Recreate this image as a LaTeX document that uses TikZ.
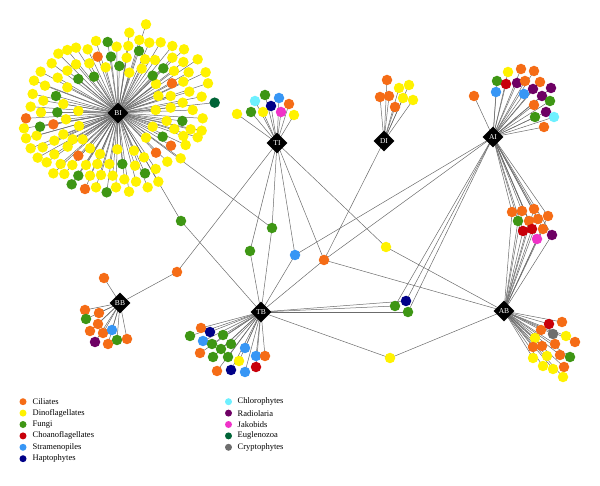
\documentclass[tikz,border=0pt]{standalone}
\usepackage{fontspec}
\setmainfont{Liberation Serif}
\usetikzlibrary{shapes.geometric}
\definecolor{cil}{RGB}{245,108,22}
\definecolor{dino}{RGB}{255,242,0}
\definecolor{fun}{RGB}{62,150,20}
\definecolor{cho}{RGB}{200,0,10}
\definecolor{str}{RGB}{55,150,245}
\definecolor{hap}{RGB}{0,0,135}
\definecolor{chl}{RGB}{110,240,255}
\definecolor{rad}{RGB}{110,0,100}
\definecolor{jak}{RGB}{240,50,200}
\definecolor{eug}{RGB}{0,100,55}
\definecolor{cry}{RGB}{110,110,110}
\pgfdeclarelayer{bg}
\pgfsetlayers{bg,main}
\begin{document}
\begin{tikzpicture}[x=1pt,y=-1pt,
  dot/.style={circle,fill=#1,draw=none,minimum size=10.5pt,inner sep=0pt},
  ldot/.style={circle,fill=#1,draw=none,minimum size=7pt,inner sep=0pt},
  hub/.style={diamond,fill=black,minimum size=21pt,inner sep=0pt,text=white,font=\fontsize{7.5}{7.5}\selectfont},
  edge/.style={draw=black!58,line width=0.5pt},
  ltext/.style={anchor=west,inner sep=0pt,font=\fontsize{8.5}{9}\selectfont}]
\useasboundingbox (0,0) rectangle (600,486);
% hubs
\node[hub] (BI) at (118,113) {BI};
\node[hub] (TI) at (277,143) {TI};
\node[hub] (DI) at (384,141) {DI};
\node[hub] (AI) at (493,137) {AI};
\node[hub] (BB) at (120,303) {BB};
\node[hub] (TB) at (261,312) {TB};
\node[hub] (AB) at (504,311) {AB};
% BI cluster
\foreach \x/\y/\c [count=\i] in {
408/43/dino,358/68/dino,258/93/dino,320/110/dino,355/108/dino,388/90/dino,418/98/dino,452/97/dino,487/108/dino,522/118/dino,
198/113/dino,233/118/dino,350/143/dino,405/148/dino,435/150/dino,487/143/dino,520/156/dino,563/148/dino,
145/131/dino,172/120/dino,198/163/dino,238/160/dino,287/172/dino,358/188/dino,395/176/dino,492/183/dino,536/187/dino,587/187/dino,
125/160/dino,172/182/dino,438/222/dino,520/215/dino,594/220/dino,
92/185/dino,143/203/dino,172/232/dino,445/258/dino,482/258/dino,538/245/dino,575/260/dino,
72/212/dino,105/227/dino,437/300/dino,482/293/dino,518/278/dino,548/300/dino,578/325/dino,
68/252/dino,100/272/dino,160/282/dino,205/303/dino,470/333/dino,
62/290/dino,93/307/dino,168/328/dino,207/348/dino,428/350/dino,493/357/dino,542/358/dino,575/362/dino,
42/355/dino,80/377/dino,160/373/dino,188/388/dino,218/388/dino,408/383/dino,520/378/dino,563/382/dino,527/405/dino,
48/385/dino,62/415/dino,98/412/dino,133/392/dino,133/433/dino,173/410/dino,240/415/dino,270/432/dino,322/418/dino,372/422/dino,402/442/dino,472/455/dino,512/445/dino,
83/443/dino,110/457/dino,152/462/dino,187/465/dino,228/465/dino,262/462/dino,298/462/dino,375/467/dino,437/477/dino,
130/490/dino,163/492/dino,240/497/dino,273/495/dino,308/497/dino,343/508/dino,378/515/dino,413/532/dino,445/515/dino,
258/532/dino,318/532/dino,357/545/dino,
293/96/fun,303/140/fun,387/123/fun,328/168/fun,428/197/fun,460/175/fun,205/207/fun,252/200/fun,138/258/fun,142/307/fun,517/333/fun,90/350/fun,458/380/fun,337/462/fun,405/490/fun,205/497/fun,185/523/fun,290/547/fun,
263/140/cil,486/220/cil,48/325/cil,130/343/cil,483/407/cil,205/437/cil,438/428/cil,225/537/cil,
614/278/eug}{
  \node[dot=\c] (bi\i) at ({\x/3+10},{\y/3+10}) {};
  \begin{pgfonlayer}{bg}\draw[edge] (BI.center) -- (bi\i.center);\end{pgfonlayer}
}
% TI cluster
\foreach \x/\y/\c [count=\i] in {237/114/dino,251/112/fun,255/101/chl,265/95/fun,271/106/hap,263/112/dino,279/98/str,281/112/jak,289/104/cil,294/115/dino}{
  \node[dot=\c] (ti\i) at (\x,\y) {};
  \begin{pgfonlayer}{bg}\draw[edge] (TI.center) -- (ti\i.center);\end{pgfonlayer}
}
% DI cluster
\foreach \x/\y/\c [count=\i] in {387/80/cil,380/97/cil,389/96/cil,399/88/dino,409/85/dino,403/98/dino,395/107/cil,413/100/dino}{
  \node[dot=\c] (di\i) at (\x,\y) {};
  \begin{pgfonlayer}{bg}\draw[edge] (DI.center) -- (di\i.center);\end{pgfonlayer}
}
% AI cluster
\foreach \x/\y/\c [count=\i] in {474/96/cil,508/72/dino,521/69/cil,534/71/cil,497/81/fun,506/84/cho,517/83/rad,525/81/cil,540/82/cil,496/92/str,524/94/str,533/89/rad,551/88/rad,542/96/rad,534/105/cil,550/101/fun,546/112/rad,535/117/fun,554/117/chl,544/127/cil}{
  \node[dot=\c] (ai\i) at (\x,\y) {};
  \begin{pgfonlayer}{bg}\draw[edge] (AI.center) -- (ai\i.center);\end{pgfonlayer}
}
% AI-AB shared cluster
\foreach \x/\y/\c [count=\i] in {512/212/cil,522/211/cil,534/209/cil,518/221/fun,529/221/cil,538/219/cil,548/216/cil,523/231/cho,532/229/cho,543/229/cil,537/239/jak,552/235/rad}{
  \node[dot=\c] (aa\i) at (\x,\y) {};
  \begin{pgfonlayer}{bg}\draw[edge] (AI.center) -- (aa\i.center) -- (AB.center);\end{pgfonlayer}
}
% AB cluster
\foreach \x/\y/\c [count=\i] in {549/324/cho,562/322/cil,541/330/cil,553/334/cry,566/336/dino,575/342/cil,535/338/dino,555/344/cil,533/347/cil,542/346/cil,560/355/cil,570/357/fun,533/358/dino,547/356/dino,564/367/cil,543/366/dino,553/369/dino,563/377/dino}{
  \node[dot=\c] (ab\i) at (\x,\y) {};
  \begin{pgfonlayer}{bg}\draw[edge] (AB.center) -- (ab\i.center);\end{pgfonlayer}
}
% TB cluster
\foreach \x/\y/\c [count=\i] in {201/328/cil,190/336/fun,210/332/hap,203/341/str,223/335/fun,212/344/fun,231/344/fun,200/353/cil,221/349/fun,213/357/fun,228/357/fun,245/348/str,256/356/str,265/356/cil,239/361/dino,217/371/cil,231/370/hap,245/372/str,256/367/cho}{
  \node[dot=\c] (tb\i) at (\x,\y) {};
  \begin{pgfonlayer}{bg}\draw[edge] (TB.center) -- (tb\i.center);\end{pgfonlayer}
}
% BB cluster
\foreach \x/\y/\c [count=\i] in {104/278/cil,85/310/cil,99/313/cil,86/319/fun,98/324/cil,90/331/cil,103/333/cil,112/330/str,95/342/rad,108/344/cil,117/340/fun,127/339/cil}{
  \node[dot=\c] (bb\i) at (\x,\y) {};
  \begin{pgfonlayer}{bg}\draw[edge] (BB.center) -- (bb\i.center);\end{pgfonlayer}
}
% shared OTUs
\node[dot=fun] (s1) at (181,221) {};
\node[dot=fun] (s2) at (272,228) {};
\node[dot=fun] (s3) at (250,251) {};
\node[dot=str] (s4) at (295,255) {};
\node[dot=cil] (s5) at (324,260) {};
\node[dot=dino] (s6) at (386,247) {};
\node[dot=cil] (s7) at (177,272) {};
\node[dot=fun] (s8) at (395,306) {};
\node[dot=hap] (s9) at (406,301) {};
\node[dot=fun] (s10) at (408,312) {};
\node[dot=dino] (s11) at (390,358) {};
\begin{pgfonlayer}{bg}
\foreach \a/\b in {BI/s1,TB/s1,BI/s2,TI/s2,TB/s2,TI/s3,TB/s3,TI/s4,TB/s4,AI/s4,TI/s5,TB/s5,DI/s5,AI/s5,AB/s5,TI/s6,AB/s6,TI/s7,BB/s7,TB/s8,AI/s8,TB/s9,AI/s9,TB/s10,AI/s10,TB/s11,AB/s11}
  \draw[edge] (\a.center) -- (\b.center);
\end{pgfonlayer}
% legend
\foreach \c/\t [count=\i] in {cil/Ciliates,dino/Dinoflagellates,fun/Fungi,cho/Choanoflagellates,str/Stramenopiles,hap/Haptophytes}{
  \node[ldot=\c] (la\i) at (23,{390.3+11.4*\i}) {};
  \node[ltext] (lt\i) at (32.5,{390.3+11.4*\i}) {\t};
}
\foreach \c/\t [count=\i] in {chl/Chlorophytes,rad/Radiolaria,jak/Jakobids,eug/Euglenozoa,cry/Cryptophytes}{
  \node[ldot=\c] (lb\i) at (228.5,{390.3+11.4*\i}) {};
  \node[ltext] (lu\i) at (237.5,{390.3+11.4*\i}) {\t};
}
\end{tikzpicture}
\end{document}
